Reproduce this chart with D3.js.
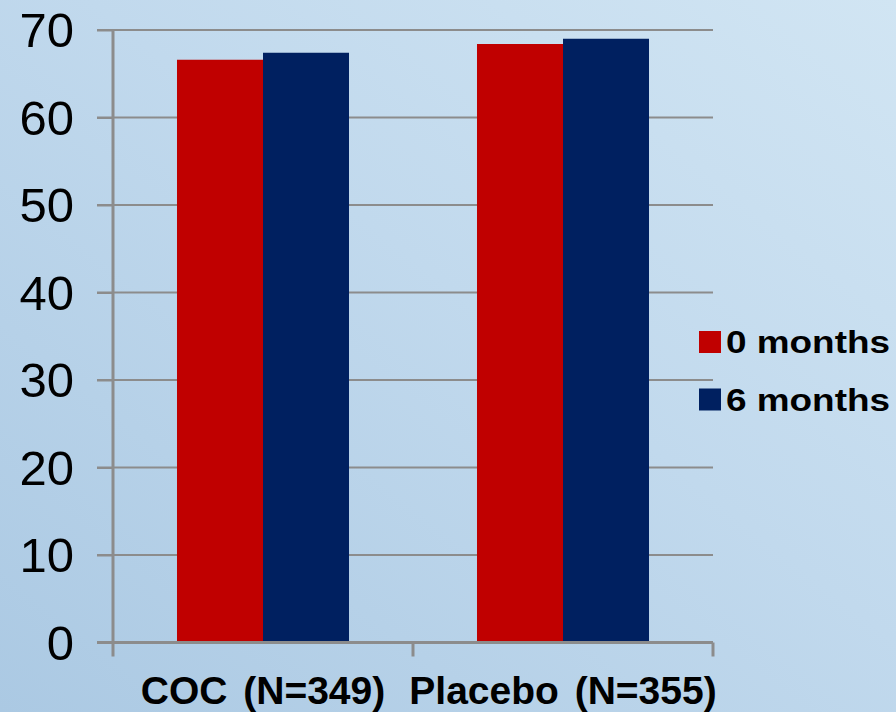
<!DOCTYPE html>
<html>
<head>
<meta charset="utf-8">
<script src="https://cdn.jsdelivr.net/npm/d3@7"></script>
<style>
  html, body { margin: 0; padding: 0; }
  svg { display: block; }
</style>
</head>
<body>
<script>
const categories = ["COC (N=349)", "Placebo (N=355)"];
const seriesNames = ["0 months", "6 months"];
const values0 = [66.6, 68.4];
const values6 = [67.4, 69.0];
const yTicks = [0, 10, 20, 30, 40, 50, 60, 70];
const colors = ["#c00000", "#002060"];

const W = 896, H = 712;
const margin = { left: 113, right: 183, top: 30, bottom: 69.5 };

const svg = d3.select("body").append("svg").attr("width", W).attr("height", H);

const defs = svg.append("defs");
const grad = defs.append("linearGradient").attr("id", "bg")
  .attr("x1", "0%").attr("y1", "100%").attr("x2", "100%").attr("y2", "0%");
grad.append("stop").attr("offset", "0%").attr("stop-color", "#abc9e3");
grad.append("stop").attr("offset", "55%").attr("stop-color", "#c1d9ed");
grad.append("stop").attr("offset", "100%").attr("stop-color", "#d1e5f3");
svg.append("rect").attr("width", W).attr("height", H).attr("fill", "url(#bg)");

const x0 = d3.scaleBand().domain(categories).range([margin.left, W - margin.right]).padding(0);
const x1 = d3.scaleBand().domain(seriesNames).range([0, x0.bandwidth()]).paddingInner(0).paddingOuter(0.744);
const y = d3.scaleLinear().domain([0, 70]).range([H - margin.bottom, margin.top]);

// gridlines
const gridG = svg.append("g");
gridG.selectAll("line").data(yTicks.filter(d => d > 0)).join("line")
  .attr("x1", margin.left - 16).attr("x2", W - margin.right)
  .attr("y1", d => y(d)).attr("y2", d => y(d))
  .attr("stroke", "#8c8c8c").attr("stroke-width", 2);

// bars
const data = categories.map((c, i) => ({ cat: c, vals: [values0[i], values6[i]] }));
const groups = svg.append("g").selectAll("g").data(data).join("g")
  .attr("transform", d => `translate(${x0(d.cat)},0)`);
groups.selectAll("rect").data(d => d.vals.map((v, j) => ({ key: seriesNames[j], v, j }))).join("rect")
  .attr("x", d => x1(d.key)).attr("width", x1.bandwidth())
  .attr("y", d => y(d.v)).attr("height", d => y(0) - y(d.v))
  .attr("fill", d => colors[d.j]);

// y axis
const yAxis = d3.axisLeft(y).tickValues(yTicks).tickSize(16).tickPadding(23).tickFormat(d3.format("d"));
const yG = svg.append("g").attr("transform", `translate(${margin.left},0)`).call(yAxis);
yG.select(".domain").remove();
yG.selectAll(".tick line").attr("stroke", "#8c8c8c").attr("stroke-width", 2);
yG.selectAll(".tick text").attr("font-family", "Liberation Sans, Arial, sans-serif")
  .attr("font-size", 49).attr("fill", "#000").attr("dy", "0.34em");
yG.append("line").attr("x1", 0).attr("x2", 0).attr("y1", y(70)).attr("y2", y(0) + 14)
  .attr("stroke", "#8c8c8c").attr("stroke-width", 3);

// x axis
const xG = svg.append("g").attr("transform", `translate(0,${y(0)})`);
xG.append("line").attr("x1", margin.left - 16).attr("x2", W - margin.right)
  .attr("stroke", "#8c8c8c").attr("stroke-width", 3);
const tickXs = categories.map(c => x0(c)).concat([x0(categories[categories.length - 1]) + x0.bandwidth()]);
xG.selectAll("line.tk").data(tickXs.slice(1)).join("line").attr("class", "tk")
  .attr("x1", d => d).attr("x2", d => d).attr("y1", 0).attr("y2", 14)
  .attr("stroke", "#8c8c8c").attr("stroke-width", 3);
xG.selectAll("text").data(categories).join("text")
  .attr("x", d => x0(d) + x0.bandwidth() / 2).attr("y", 61)
  .attr("text-anchor", "middle")
  .attr("font-family", "Liberation Sans, Arial, sans-serif")
  .attr("font-weight", "bold").attr("font-size", 39).attr("fill", "#000")
  .attr("word-spacing", 5)
  .text(d => d);

// legend
const lg = svg.append("g").attr("transform", "translate(699,331)");
const items = lg.selectAll("g").data(seriesNames).join("g")
  .attr("transform", (d, i) => `translate(0,${i * 57.5})`);
items.append("rect").attr("width", 22).attr("height", 22).attr("fill", (d, i) => colors[i]);
items.append("text").attr("x", 27).attr("y", 22)
  .attr("font-family", "Liberation Sans, Arial, sans-serif")
  .attr("font-weight", "bold").attr("font-size", 31).attr("fill", "#000")
  .attr("textLength", 164).attr("lengthAdjust", "spacingAndGlyphs")
  .text(d => d);
</script>
</body>
</html>
